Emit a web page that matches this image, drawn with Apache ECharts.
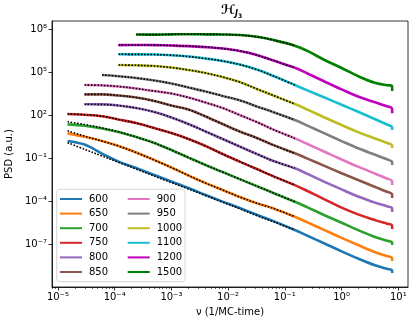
<!DOCTYPE html>
<html>
<head>
<meta charset="utf-8">
<title>PSD</title>
<script src="https://cdn.jsdelivr.net/npm/echarts@6.0.0/dist/echarts.min.js"></script>
<style>
  html, body { margin: 0; padding: 0; background: #fff; }
  #chart { width: 416px; height: 326px; }
</style>
</head>
<body>
<div id="chart"></div>
<script>
// frequency grid (1/MC-time)
const freq = [1.48e-5, 2.95e-5, 6.0e-5, 1.17e-4, 2.4e-4, 5e-4, 1e-3, 2e-3, 4e-3, 8e-3, 1.6e-2, 3.2e-2, 6.3e-2, 0.15, 0.25, 0.5, 1, 2, 4, 6.3, 7.7, 7.8]

// log10 of PSD (null = no data at that frequency)
const psd600 = [0.21, -0.04, -0.67, -1.23, -1.68, -2.17, -2.62, -3.07, -3.56, -4.02, -4.47, -4.94, -5.38, -6.0, -6.4, -6.94, -7.49, -8.01, -8.48, -8.71, -8.8, -9.01]
const psd650 = [0.74, 0.5, 0.21, -0.14, -0.6, -1.12, -1.64, -2.2, -2.73, -3.21, -3.7, -4.13, -4.5, -5.08, -5.47, -6.01, -6.55, -7.07, -7.57, -7.82, -7.94, -8.17]
const psd700 = [1.37, 1.27, 1.08, 0.83, 0.48, 0.07, -0.42, -0.95, -1.47, -1.96, -2.45, -2.94, -3.42, -4.03, -4.42, -4.97, -5.5, -6.03, -6.51, -6.75, -6.86, -7.05]
const psd750 = [2.09, 2.04, 1.94, 1.71, 1.46, 1.11, 0.76, 0.35, -0.14, -0.7, -1.23, -1.75, -2.26, -2.87, -3.28, -3.86, -4.44, -4.93, -5.33, -5.56, -5.66, -5.94]
const psd800 = [null, 2.77, 2.76, 2.68, 2.51, 2.23, 1.85, 1.39, 0.87, 0.35, -0.18, -0.7, -1.19, -1.7, -2.09, -2.64, -3.17, -3.68, -4.11, -4.35, -4.47, -4.75]
const psd850 = [null, 3.46, 3.46, 3.38, 3.24, 3.0, 2.68, 2.4, 1.92, 1.39, 0.87, 0.42, -0.08, -0.65, -1.02, -1.53, -2.04, -2.53, -3.02, -3.33, -3.49, -3.77]
const psd900 = [null, 4.11, 4.09, 4.01, 3.87, 3.69, 3.52, 3.24, 2.89, 2.51, 2.02, 1.53, 1.0, 0.39, 0.0, -0.54, -1.08, -1.6, -2.09, -2.41, -2.58, -2.87]
const psd950 = [null, null, 4.81, 4.73, 4.6, 4.43, 4.22, 3.94, 3.66, 3.35, 3.05, 2.62, 2.22, 1.67, 1.28, 0.74, 0.2, -0.32, -0.77, -1.07, -1.23, -1.47]
const psd1000 = [null, null, null, 5.51, 5.49, 5.44, 5.33, 5.16, 4.95, 4.67, 4.32, 3.84, 3.38, 2.79, 2.4, 1.85, 1.32, 0.81, 0.37, 0.07, -0.07, -0.28]
const psd1100 = [null, null, null, 6.26, 6.25, 6.24, 6.19, 6.1, 5.96, 5.79, 5.54, 5.19, 4.74, 4.11, 3.74, 3.24, 2.74, 2.23, 1.71, 1.36, 1.2, 0.97]
const psd1200 = [null, null, null, 6.9, 6.91, 6.9, 6.87, 6.83, 6.76, 6.66, 6.49, 6.21, 5.82, 5.32, 4.92, 4.36, 3.81, 3.29, 2.89, 2.63, 2.49, 2.14]
const psd1500 = [null, null, null, null, 7.64, 7.63, 7.65, 7.66, 7.65, 7.64, 7.6, 7.48, 7.25, 6.86, 6.49, 5.86, 5.3, 4.71, 4.25, 4.1, 4.06, 3.69]

// fitted curves (dotted) run up to this frequency; where the fit
// differs from the data its log10 values are listed here
const fitEnd = 0.15
const fit600 = [0.09, -0.37, -0.84, -1.28, -1.75, -2.24, -2.69, -3.14, -3.6, -4.06, -4.52, -4.99, -5.43, -6.0]
const fit650 = [0.92, 0.55, 0.2, -0.14, -0.6, -1.12, -1.64, -2.2, -2.73, -3.21, -3.7, -4.13, -4.5, -5.08]
const fit700 = [1.55, 1.36, 1.12, 0.85, 0.48, 0.07, -0.42, -0.95, -1.47, -1.96, -2.45, -2.94, -3.42, -4.03]

const temps = ['600', '650', '700', '750', '800', '850', '900', '950', '1000', '1100', '1200', '1500']
const colors = ['#1f77b4', '#ff7f0e', '#2ca02c', '#d62728', '#9467bd', '#8c564b', '#e377c2', '#7f7f7f', '#bcbd22', '#17becf', '#bf00bf', '#008000']
const psd = [psd600, psd650, psd700, psd750, psd800, psd850, psd900, psd950, psd1000, psd1100, psd1200, psd1500]
const fits = [fit600, fit650, fit700]

const xTicks = [1e-5, 1e-4, 1e-3, 1e-2, 1e-1, 1, 10]
const xTickLabels = ['10⁻⁵', '10⁻⁴', '10⁻³', '10⁻²', '10⁻¹', '10⁰', '10¹']
const yTicks = [1e-7, 1e-4, 1e-1, 1e2, 1e5, 1e8]
const yTickLabels = ['10⁻⁷', '10⁻⁴', '10⁻¹', '10²', '10⁵', '10⁸']

const xMin = 7.87e-6
const xMax = 14.8
const yMin = 1.05e-10
const yMax = 3.8e8

// minor ticks of the log x axis
const xMinor = []
for (let e = -6; e <= 1; e++) {
  for (let k = 2; k <= 9; k++) {
    const v = k * Math.pow(10, e)
    if (v > xMin && v < xMax) xMinor.push(v)
  }
}

const toPoints = (vals) => {
  const pts = []
  vals.forEach((v, i) => {
    if (v != null && freq[i] != null) pts.push([freq[i], Math.pow(10, v)])
  })
  return pts
}

const tickLabel = (ticks, labels) => (v) => {
  const i = ticks.findIndex(t => Math.abs(Math.log10(t) - Math.log10(v)) < 0.01)
  return i >= 0 ? labels[i] : ''
}

const font = 'DejaVu Sans'
const axisColor = '#000'

const series = []
temps.forEach((t, i) => {
  series.push({
    name: t,
    type: 'line',
    data: toPoints(psd[i]),
    showSymbol: false,
    symbol: 'none',
    smooth: 0.35,
    lineStyle: { color: colors[i], width: 2.6 },
    itemStyle: { color: colors[i] },
    z: 2
  })
})
temps.forEach((t, i) => {
  const nFit = freq.filter(f => f <= fitEnd).length
  const vals = fits[i] || psd[i].slice(0, nFit)
  series.push({
    name: 'fit ' + t,
    type: 'line',
    data: toPoints(vals),
    showSymbol: false,
    symbol: 'none',
    smooth: 0.35,
    lineStyle: { color: '#000', width: 1.6, type: [1.6, 1.6] },
    itemStyle: { color: '#000' },
    z: 3
  })
})

const legendCommon = {
  orient: 'vertical',
  top: 193,
  icon: 'rect',
  itemWidth: 22,
  itemHeight: 2,
  itemGap: 2.6,
  padding: 0,
  selectedMode: false,
  textStyle: { fontFamily: font, fontSize: 10, color: '#000', lineHeight: 12, padding: [0, 0, 0, 2] },
  z: 5
}

const chart = echarts.init(document.getElementById('chart'))
const option = {
  animation: false,
  backgroundColor: '#fff',
  title: {
    text: '{h|ℋ}{j|J}{n|3}',
    left: 221,
    top: 1,
    padding: 0,
    textStyle: {
      rich: {
        h: { fontFamily: font, fontSize: 13, color: '#000', lineHeight: 20 },
        j: { fontFamily: font, fontSize: 8, fontStyle: 'italic', color: '#000', padding: [6, 0, 0, 0] },
        n: { fontFamily: font, fontSize: 6, color: '#000', padding: [10, 0, 0, 0] }
      }
    }
  },
  grid: {
    left: 52, right: 8, top: 21, bottom: 39,
    show: true, borderColor: '#000', borderWidth: 0.8,
    outerBoundsMode: 'none'
  },
  legend: [
    Object.assign({ left: 60, data: temps.slice(0, 6) }, legendCommon),
    Object.assign({ left: 127.7, data: temps.slice(6) }, legendCommon)
  ],
  graphic: [{
    type: 'rect',
    shape: { x: 56.7, y: 189.3, width: 128.3, height: 92.4, r: 3 },
    style: { fill: 'rgba(255,255,255,0.8)', stroke: '#d6d6d6', lineWidth: 1 },
    z: 4
  }],
  xAxis: [{
    type: 'log',
    min: xMin,
    max: xMax,
    name: 'ν (1/MC-time)',
    nameLocation: 'middle',
    nameGap: 20,
    nameTextStyle: { fontFamily: font, fontSize: 10, color: '#000' },
    axisLine: { lineStyle: { color: axisColor, width: 0.8 } },
    axisTick: { customValues: xTicks, length: 3.5, lineStyle: { color: axisColor, width: 0.8 } },
    axisLabel: { customValues: xTicks, formatter: tickLabel(xTicks, xTickLabels), margin: 5, fontFamily: font, fontSize: 10, color: '#000' },
    splitLine: { show: false }
  }, {
    type: 'log',
    min: xMin,
    max: xMax,
    position: 'bottom',
    axisLine: { show: false },
    axisTick: { customValues: xMinor, length: 2, lineStyle: { color: axisColor, width: 0.6 } },
    axisLabel: { show: false },
    splitLine: { show: false }
  }],
  yAxis: {
    type: 'log',
    min: yMin,
    max: yMax,
    name: 'PSD (a.u.)',
    nameLocation: 'middle',
    nameGap: 33,
    nameTextStyle: { fontFamily: font, fontSize: 10, color: '#000' },
    axisLine: { lineStyle: { color: axisColor, width: 0.8 } },
    axisTick: { customValues: yTicks, length: 3.5, lineStyle: { color: axisColor, width: 0.8 } },
    axisLabel: { customValues: yTicks, formatter: tickLabel(yTicks, yTickLabels), margin: 5, fontFamily: font, fontSize: 10, color: '#000' },
    splitLine: { show: false }
  },
  series: series
}
chart.setOption(option)
</script>
</body>
</html>
